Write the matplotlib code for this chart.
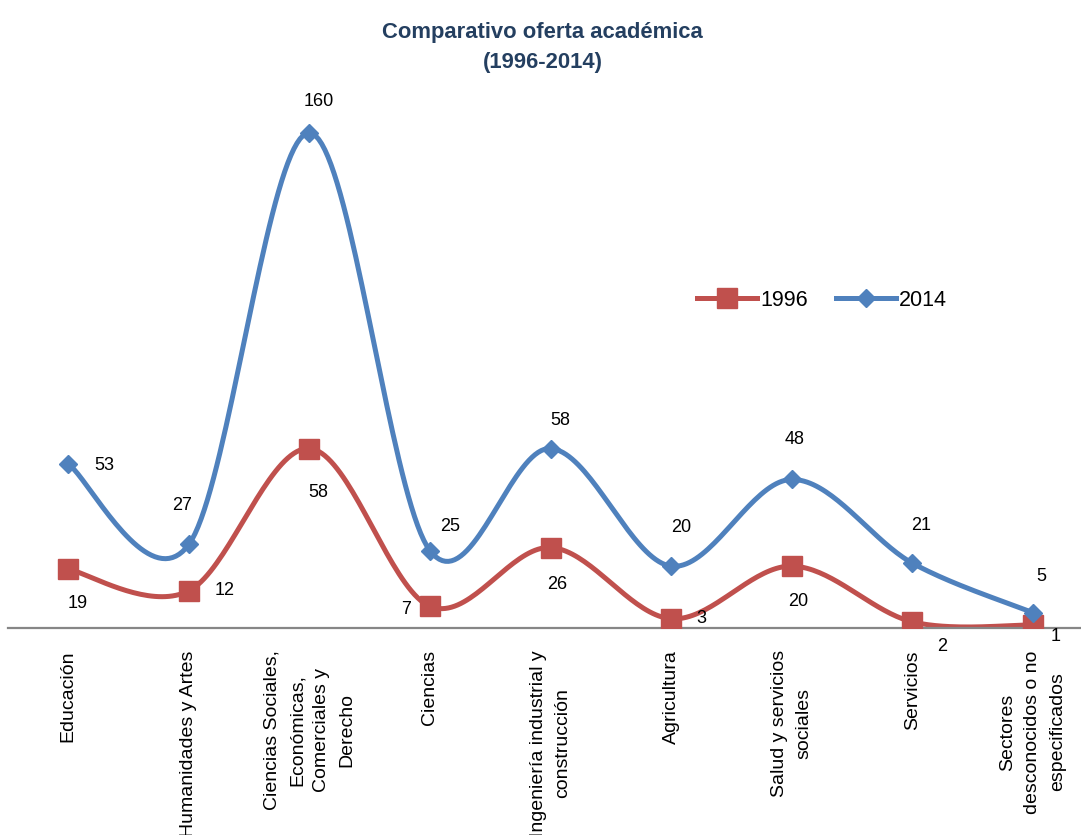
import numpy as np
import matplotlib.pyplot as plt

plt.rcParams['font.family'] = ['Liberation Sans Narrow', 'Liberation Sans', 'DejaVu Sans']

categorias = [
    "Educación",
    "Humanidades y Artes",
    "Ciencias Sociales,\nEconómicas,\nComerciales y\nDerecho",
    "Ciencias",
    "Ingeniería industrial y\nconstrucción",
    "Agricultura",
    "Salud y servicios\nsociales",
    "Servicios",
    "Sectores\ndesconocidos o no\nespecificados",
]
oferta_1996 = [19, 12, 58, 7, 26, 3, 20, 2, 1]
oferta_2014 = [53, 27, 160, 25, 58, 20, 48, 21, 5]

# label offsets in pixels (dx, dy) relative to each point
off_1996 = [(9, -34), (36, 0), (9, -44), (-24, -3), (7, -37), (30, 0), (7, -35), (30, -25), (23, -12)]
off_2014 = [(36, -2), (-7, 39), (9, 31), (20, 24), (10, 28), (10, 39), (3, 40), (9, 38), (9, 36)]

RED = "#C0504D"
BLUE = "#4F81BD"


def smooth(x, y, n=40):
    # Excel-like smoothed line (Catmull-Rom as cubic Bezier)
    x = np.asarray(x, float)
    y = np.asarray(y, float)
    px = np.concatenate([[x[0]], x, [x[-1]]])
    py = np.concatenate([[y[0]], y, [y[-1]]])
    xs, ys = [], []
    t = np.linspace(0, 1, n)
    for i in range(1, len(px) - 2):
        p0 = np.array([px[i], py[i]])
        p3 = np.array([px[i + 1], py[i + 1]])
        c1 = p0 + (np.array([px[i + 1], py[i + 1]]) - np.array([px[i - 1], py[i - 1]])) / 6
        c2 = p3 - (np.array([px[i + 2], py[i + 2]]) - np.array([px[i], py[i]])) / 6
        b = ((1 - t) ** 3)[:, None] * p0 + (3 * (1 - t) ** 2 * t)[:, None] * c1 \
            + (3 * (1 - t) * t ** 2)[:, None] * c2 + (t ** 3)[:, None] * p3
        xs.extend(b[:, 0])
        ys.extend(b[:, 1])
    return xs, ys


fig = plt.figure(figsize=(10.81, 8.35), dpi=100)
ax = fig.add_axes([8 / 1081, 207 / 835, 1085 / 1081, 557 / 835])

x = np.arange(len(categorias))

sx, sy = smooth(x, oferta_1996)
ax.plot(sx, sy, color=RED, lw=3.6, zorder=2, solid_capstyle='round')
ax.plot(x, oferta_1996, 's', color=RED, ms=14, zorder=3)

sx, sy = smooth(x, oferta_2014)
ax.plot(sx, sy, color=BLUE, lw=3.6, zorder=4, solid_capstyle='round')
ax.plot(x, oferta_2014, 'D', color=BLUE, ms=9.5, zorder=5)

for xi, v, (dx, dy) in zip(x, oferta_1996, off_1996):
    ax.annotate(str(v), (xi, v), xytext=(dx * 0.72, dy * 0.72), textcoords='offset points',
                ha='center', va='center', fontsize=13, color='black')
for xi, v, (dx, dy) in zip(x, oferta_2014, off_2014):
    ax.annotate(str(v), (xi, v), xytext=(dx * 0.72, dy * 0.72), textcoords='offset points',
                ha='center', va='center', fontsize=13, color='black')

ax.set_xlim(-0.5, 8.5)
ax.set_ylim(0, 180)
ax.set_xticks(x)
ax.set_xticklabels(categorias, rotation=90, fontsize=14, ha='center', va='top',
                   multialignment='center', linespacing=1.6)
ax.tick_params(axis='x', length=0, pad=16)
ax.set_yticks([])
for s in ['top', 'left', 'right']:
    ax.spines[s].set_visible(False)
ax.spines['bottom'].set_color('#868686')
ax.spines['bottom'].set_linewidth(1.6)
ax.set_facecolor('none')

fig.text(0.502, 0.974, "Comparativo oferta académica\n(1996-2014)", ha='center', va='top',
         fontsize=15.8, fontweight='bold', color='#243F60', linespacing=1.6)

h1, = ax.plot([], [], color=RED, lw=3.6, marker='s', ms=14, label='1996')
h2, = ax.plot([], [], color=BLUE, lw=3.6, marker='D', ms=9.5, label='2014')
fig.legend(handles=[h1, h2], loc='center', bbox_to_anchor=(822 / 1081, 1 - 300 / 835),
           ncol=2, frameon=False, fontsize=15.5, handlelength=2.8, columnspacing=1.3,
           handletextpad=0.15)

fig.savefig("out.png", dpi=100)
